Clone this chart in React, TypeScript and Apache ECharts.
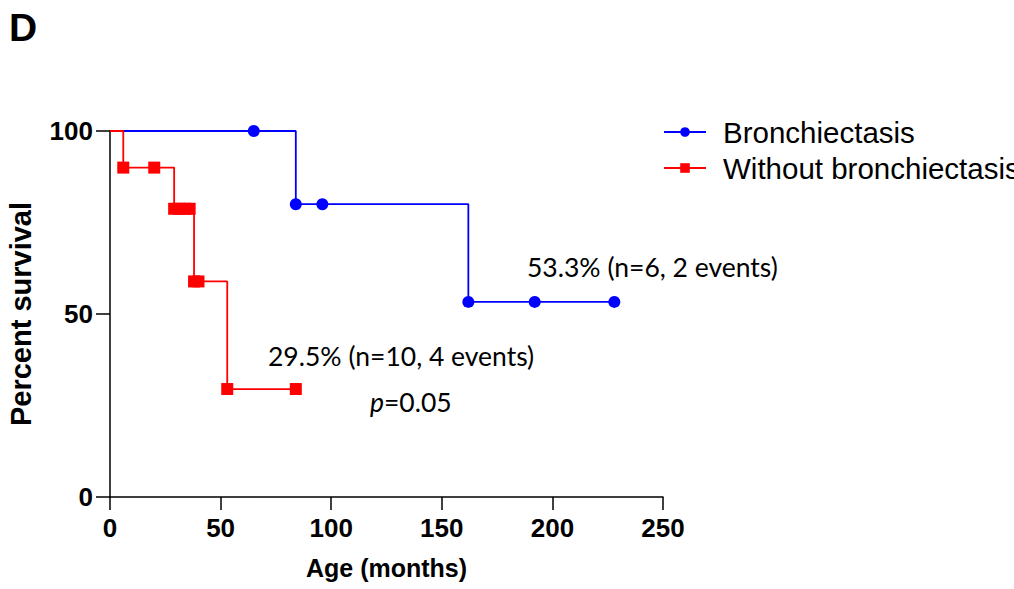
import React, { useEffect, useRef } from "react";
import * as echarts from "echarts";

// Kaplan–Meier step points: [months, percent survival]; the first point of each
// curve is the origin and carries no symbol.
const bronchiectasisTimes = [0, 65, 84, 96, 162, 192, 228];
const bronchiectasisSurvival = [100, 100, 80, 80, 53.3, 53.3, 53.3];

const withoutTimes = [0, 6, 20, 29, 31, 34, 36, 38, 40, 53, 84];
const withoutSurvival = [100, 90, 90, 78.75, 78.75, 78.75, 78.75, 58.9, 58.9, 29.5, 29.5];

const xTicks = [0, 50, 100, 150, 200, 250];
const yTicks = [0, 50, 100];

const seriesNames = ["Bronchiectasis", "Without bronchiectasis"];
const annotationBronch = "53.3% (n=6, 2 events)";
const annotationWithout = "29.5% (n=10, 4 events)";

const BLUE = "#0000ff";
const RED = "#ff0000";

function toSteps(times: number[], values: number[]) {
  return times.map((t, i) =>
    i === 0 ? { value: [t, values[i]], symbol: "none" } : { value: [t, values[i]] }
  );
}

export default function App() {
  const ref = useRef<HTMLDivElement>(null);

  useEffect(() => {
    if (!ref.current) return;
    const chart = echarts.init(ref.current, undefined, { renderer: "svg" });
    const axisFont = { fontFamily: "Liberation Sans", fontWeight: "bold" as const, fontSize: 26, color: "#000" };
    const noteStyle = { fontFamily: "Lato", fontSize: 26.5, fill: "#000", verticalAlign: "middle" as const };
    chart.setOption({
      animation: false,
      backgroundColor: "#fff",
      grid: { left: 110, right: 351, top: 131, bottom: 92, containLabel: false, outerBoundsMode: "none" },
      xAxis: {
        type: "value",
        min: xTicks[0],
        max: xTicks[xTicks.length - 1],
        interval: 50,
        name: "Age (months)",
        nameLocation: "middle",
        nameGap: 58,
        nameTextStyle: { fontFamily: "Liberation Sans", fontWeight: "bold", fontSize: 25, color: "#000" },
        axisLine: { lineStyle: { color: "#000", width: 1.5 } },
        axisTick: { show: true, length: 13, lineStyle: { color: "#000", width: 1.5 } },
        axisLabel: { ...axisFont, margin: 18 },
        splitLine: { show: false },
      },
      yAxis: {
        type: "value",
        min: yTicks[0],
        max: yTicks[yTicks.length - 1],
        interval: 50,
        name: "Percent survival",
        nameLocation: "middle",
        nameGap: 75,
        nameTextStyle: { fontFamily: "Liberation Sans", fontWeight: "bold", fontSize: 29, color: "#000" },
        axisLine: { show: true, lineStyle: { color: "#000", width: 1.5 } },
        axisTick: { show: true, length: 14, lineStyle: { color: "#000", width: 1.5 } },
        axisLabel: { ...axisFont, margin: 17 },
        splitLine: { show: false },
      },
      legend: {
        left: 663,
        top: 114,
        padding: 0,
        orient: "vertical",
        itemWidth: 42,
        itemHeight: 12,
        itemGap: 0,
        textStyle: { fontFamily: "Liberation Sans", fontSize: 29.5, color: "#000", lineHeight: 36, padding: [0, 0, 0, 12] },
        data: seriesNames,
      },
      series: [
        {
          name: seriesNames[0],
          type: "line",
          step: "end",
          data: toSteps(bronchiectasisTimes, bronchiectasisSurvival),
          symbol: "circle",
          symbolSize: 12,
          showAllSymbol: true,
          clip: false,
          lineStyle: { color: BLUE, width: 1.8 },
          itemStyle: { color: BLUE },
          z: 2,
        },
        {
          name: seriesNames[1],
          type: "line",
          step: "end",
          data: toSteps(withoutTimes, withoutSurvival),
          symbol: "rect",
          symbolSize: 12,
          showAllSymbol: true,
          clip: false,
          lineStyle: { color: RED, width: 1.8 },
          itemStyle: { color: RED },
          z: 3,
        },
      ],
      graphic: [
        {
          type: "text",
          left: 9,
          top: 8,
          style: { text: "D", fontFamily: "Liberation Sans", fontWeight: "bold", fontSize: 39, fill: "#000" },
        },
        { type: "text", x: 527, y: 267, style: { ...noteStyle, text: annotationBronch } },
        { type: "text", x: 268, y: 356, style: { ...noteStyle, text: annotationWithout } },
        {
          type: "text",
          x: 370,
          y: 402,
          style: {
            ...noteStyle,
            text: "{i|p}=0.05",
            rich: { i: { fontFamily: "Lato", fontStyle: "italic", fontSize: 26.5, fill: "#000" } },
          },
        },
      ],
    });
    return () => chart.dispose();
  }, []);

  return <div ref={ref} style={{ position: "fixed", left: 0, top: 0, width: 1014, height: 589 }} />;
}
